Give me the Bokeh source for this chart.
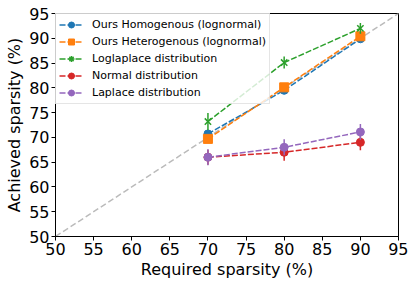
from bokeh.plotting import figure
from bokeh.models import ColumnDataSource, Legend, LegendItem, FixedTicker, Range1d
from bokeh.embed import file_html
from bokeh.resources import INLINE

required = [70, 80, 90]
homo = [70.7, 79.5, 89.9]
homo_err = [0.4, 0.5, 0.4]
hetero = [69.7, 80.1, 90.4]
hetero_err = [0.5, 0.6, 0.4]
loglap = [73.2, 85.1, 92.0]
loglap_err = [1.7, 1.2, 1.1]
normal = [66.0, 67.0, 69.0]
normal_err = [1.5, 1.7, 1.6]
laplace = [66.0, 68.0, 71.1]
laplace_err = [1.6, 1.6, 1.6]
ticks = [50, 55, 60, 65, 70, 75, 80, 85, 90, 95]

series = [
    ("Ours Homogenous (lognormal)", homo, homo_err, "#1f77b4", "circle"),
    ("Ours Heterogenous (lognormal)", hetero, hetero_err, "#ff7f0e", "square"),
    ("Loglaplace distribution", loglap, loglap_err, "#2ca02c", "x"),
    ("Normal distribution", normal, normal_err, "#d62728", "circle"),
    ("Laplace distribution", laplace, laplace_err, "#9467bd", "circle"),
]

p = figure(width=408, height=282, output_backend="svg", toolbar_location=None,
           x_range=Range1d(50, 95), y_range=Range1d(50, 95),
           min_border_left=55, min_border_right=10, min_border_top=13, min_border_bottom=46)

font = "DejaVu Sans"
p.grid.visible = False
p.outline_line_color = "black"
p.outline_line_width = 1
for ax in (p.xaxis, p.yaxis):
    ax.ticker = FixedTicker(ticks=ticks)
    ax.major_label_text_font = font
    ax.major_label_text_font_size = "16px"
    ax.major_label_text_color = "black"
    ax.axis_label_text_font = font
    ax.axis_label_text_font_size = "16px"
    ax.axis_label_text_font_style = "normal"
    ax.axis_label_text_color = "black"
    ax.minor_tick_line_color = None
    ax.major_tick_out = 4
    ax.major_tick_in = 0
    ax.axis_line_color = "black"
    ax.major_tick_line_color = "black"
    ax.axis_label_standoff = 2
    ax.major_label_standoff = 2
p.xaxis.axis_label = "Required sparsity (%)"
p.yaxis.axis_label = "Achieved sparsity (%)"

# diagonal reference
p.line([50, 95], [50, 95], line_color="#bbbbbb", line_dash="6 3", line_width=1.5)

items = []
for name, vals, errs, color, marker in series:
    src = ColumnDataSource(dict(x=required, y=vals,
                                lo=[v - e for v, e in zip(vals, errs)],
                                hi=[v + e for v, e in zip(vals, errs)]))
    seg = p.segment(x0="x", y0="lo", x1="x", y1="hi", source=src, line_color=color, line_width=1.5)
    # legend-only error-bar glyph, placed outside the visible range
    vbar = p.scatter(x=[0], y=[0], marker="cross", size=15, line_color=color, line_width=1.5)
    ln = p.line("x", "y", source=src, line_color=color, line_dash="6 2", line_width=1.5)
    if marker == "x":
        sc = p.scatter("x", "y", source=src, marker="x", size=9, line_color=color, line_width=1.5)
    elif marker == "square":
        sc = p.scatter("x", "y", source=src, marker="square", size=9, fill_color=color, line_color=color)
    else:
        sc = p.scatter("x", "y", source=src, marker="circle", size=8, fill_color=color, line_color=color)
    items.append(LegendItem(label=name, renderers=[vbar, ln, sc]))

legend = Legend(items=items, location="top_left", label_text_font=font,
                label_text_font_size="11px", label_text_color="black",
                border_line_color="#cccccc", background_fill_alpha=0.8,
                glyph_width=24, glyph_height=15, spacing=2, padding=3, margin=0,
                label_standoff=9, label_height=15)
p.add_layout(legend)

open("out.html", "w").write(file_html(p, INLINE))
